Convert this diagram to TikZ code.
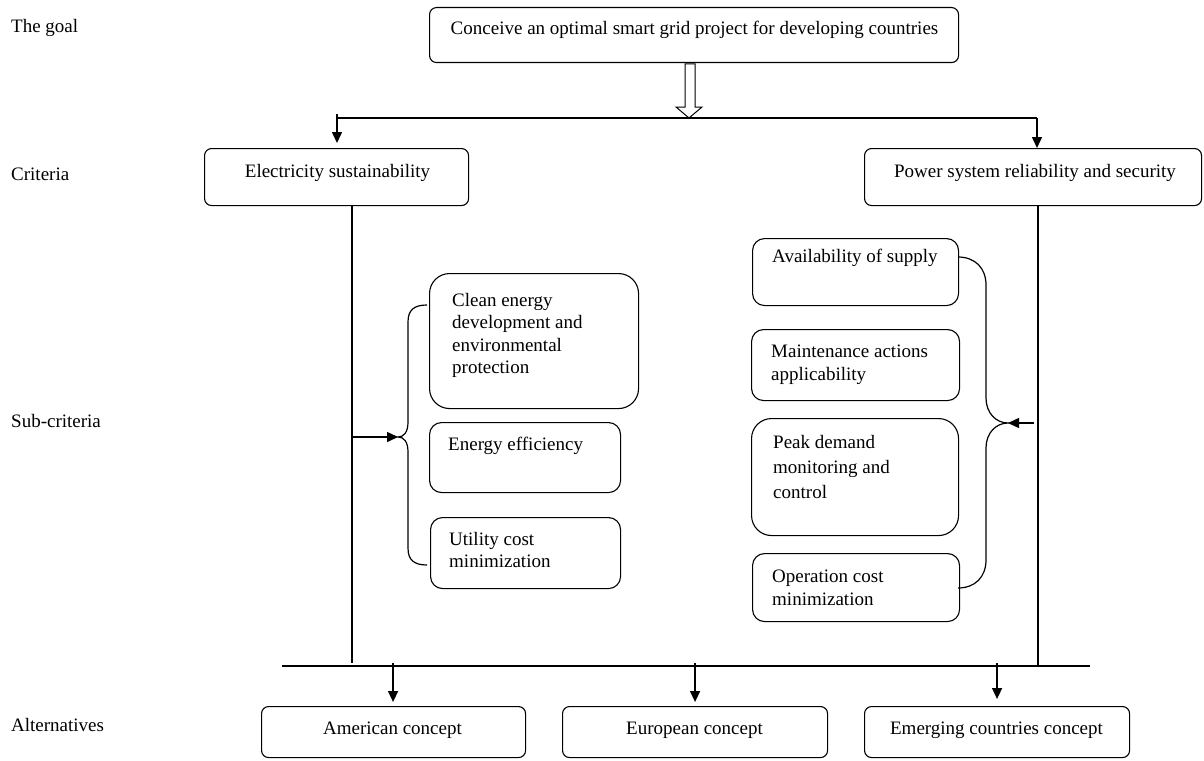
\documentclass[tikz,border=0pt]{standalone}
\usepackage{fontspec}
\setmainfont{Liberation Serif}
\usetikzlibrary{arrows.meta,calc}
\begin{document}
\begin{tikzpicture}[x=1pt,y=-1pt,
  box/.style={draw, line width=1.1pt, rounded corners=7pt, inner sep=0pt, anchor=north west},
  bigr/.style={rounded corners=20pt},
  midr/.style={rounded corners=12pt},
  txt/.style={font=\fontsize{19}{23}\selectfont, inner sep=0pt, align=flush left},
  multi/.style={txt, text width=180pt, anchor=base west},
  lbl/.style={font=\fontsize{19}{23}\selectfont, inner sep=0pt, anchor=base west},
  conn/.style={line width=1.3pt},
  bar/.style={line width=2.2pt},
  brace/.style={line width=1.2pt},
  arr/.style={line width=1.5pt, -{Triangle[length=11pt,width=10pt]}},
]
\useasboundingbox (0,0) rectangle (1204,760);

% level labels
\node[lbl] (l-goal) at (11,33) {The goal};
\node[lbl] (l-crit) at (11,180) {Criteria};
\node[lbl] (l-sub) at (11,427) {Sub-criteria};
\node[lbl] (l-alt) at (11,731) {Alternatives};

% boxes
\node[box, minimum width=529pt, minimum height=55pt] (goal) at (429,7) {};
\node[box, minimum width=264pt, minimum height=57pt] (elec) at (204,148) {};
\node[box, minimum width=337pt, minimum height=57pt] (power) at (864,148) {};
\node[box, bigr, minimum width=209pt, minimum height=135pt] (clean) at (429,273) {};
\node[box, midr, minimum width=191pt, minimum height=70pt] (eneff) at (429,422) {};
\node[box, midr, minimum width=190pt, minimum height=71pt] (util) at (430,517) {};
\node[box, midr, minimum width=206pt, minimum height=67pt] (avail) at (752,238) {};
\node[box, midr, minimum width=208pt, minimum height=71pt] (maint) at (751,329) {};
\node[box, bigr, minimum width=207pt, minimum height=117pt] (peak) at (751,418) {};
\node[box, midr, minimum width=207pt, minimum height=68pt] (oper) at (752,553) {};
\node[box, minimum width=264pt, minimum height=51pt] (amer) at (261,706) {};
\node[box, minimum width=265pt, minimum height=51pt] (euro) at (562,706) {};
\node[box, minimum width=265pt, minimum height=51pt] (emer) at (864,706) {};

% texts
\node[txt, anchor=base] (goal-t) at (694.5,35) {Conceive an optimal smart grid project for developing countries};
\node[txt, anchor=base] (elec-t) at (337.5,177) {Electricity sustainability};
\node[txt, anchor=base] (power-t) at (1035,177) {Power system reliability and security};
\node[multi, font=\fontsize{19}{22.5}\selectfont] (clean-t) at (452,306) {Clean energy\\development and\\environmental\\protection};
\node[multi] (eneff-t) at (448,450) {Energy efficiency};
\node[multi, font=\fontsize{19}{22}\selectfont] (util-t) at (449,545) {Utility cost\\minimization};
\node[multi] (avail-t) at (772,262) {Availability of supply};
\node[multi] (maint-t) at (771,357) {Maintenance actions\\applicability};
\node[multi, font=\fontsize{19}{25}\selectfont] (peak-t) at (773,448) {Peak demand\\monitoring and\\control};
\node[multi] (oper-t) at (772,582) {Operation cost\\minimization};
\node[txt, anchor=base] (amer-t) at (392.5,734) {American concept};
\node[txt, anchor=base] (euro-t) at (694.5,734) {European concept};
\node[txt, anchor=base] (emer-t) at (996.5,734) {Emerging countries concept};

% coordinates
\coordinate (tl) at (337,118);
\coordinate (tr) at (1037,118);
\coordinate (lv) at (352,663);
\coordinate (rv) at (1038,666);
\coordinate (bl) at (282,666);
\coordinate (br) at (1090,666);
\coordinate (lbtip) at (398,437);
\coordinate (rbtip) at (1008,423);

% top distribution
\draw[bar] (tl) -- (tr);
\draw[line width=1pt, fill=white] (685,64) -- (695,64) -- (695,107) -- (702,107) -- (689,118) -- (676,107) -- (685,107) -- cycle;
\draw[arr] ($(tl)+(0,-4)$) -- ($(tl |- elec.north)+(0,-5)$);
\draw[arr] (tr) -- (tr |- power.north);

% verticals from criteria
\draw[conn] (elec.south -| lv) -- (lv);
\draw[conn] (power.south -| rv) -- (rv);

% bottom bar and arrows
\draw[bar] (bl) -- (br);
\draw[arr] ($(amer.north |- bl)+(-0.5,-3)$) -- ($(amer.north)+(-0.5,-4)$);
\draw[arr] ($(euro.north |- bl)+(0,-3)$) -- ($(euro.north)+(0,-4)$);
\draw[arr] ($(emer.north |- bl)+(0,-3)$) -- ($(emer.north)+(0,-7)$);

% left brace
\draw[brace] (427,305) .. controls (414,305) and (408,310) .. (408,322) -- (408,422)
  .. controls (408,432) and (404,437) .. (398,437)
  .. controls (404,437) and (408,442) .. (408,452) -- (408,548)
  .. controls (408,560) and (414,565) .. (427,565);
\draw[arr] ($(lv |- lbtip)+(1,0)$) -- (lbtip);

% right brace
\draw[brace] (958,257) .. controls (975,257) and (986,268) .. (986,285) -- (986,398)
  .. controls (986,413) and (996,423) .. (1008,423)
  .. controls (996,423) and (986,433) .. (986,448) -- (986,560)
  .. controls (986,577) and (975,588) .. (958,588);
\draw[arr] ($(rv |- rbtip)+(-4,0)$) -- (rbtip);
\end{tikzpicture}
\end{document}
